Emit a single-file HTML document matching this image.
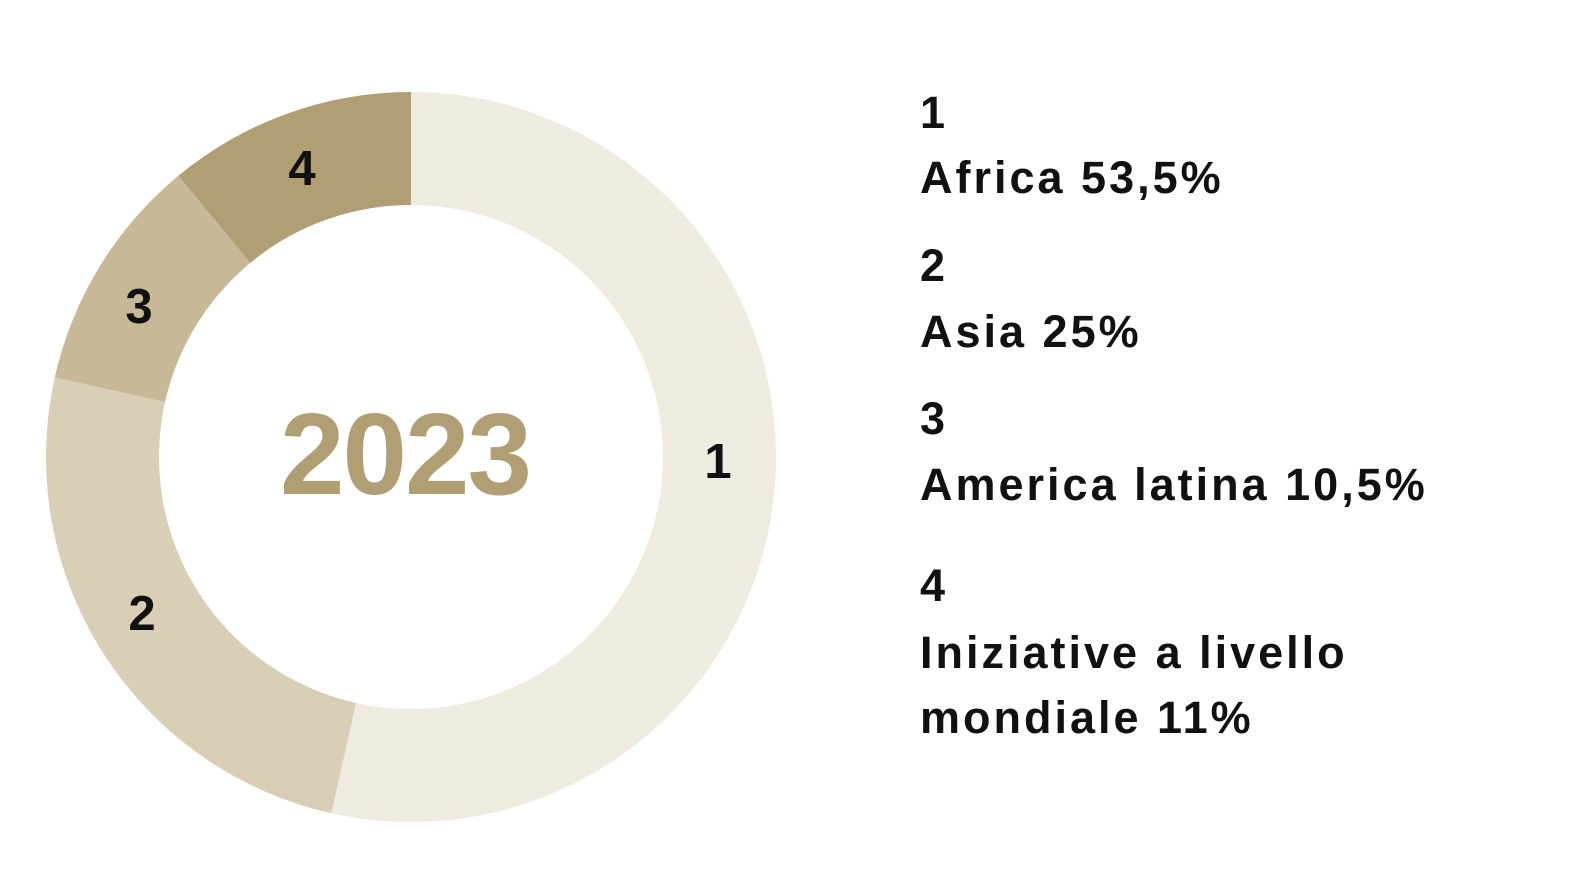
<!DOCTYPE html>
<html><head><meta charset="utf-8"><style>
html,body{margin:0;padding:0;background:#fff;}
svg{display:block;}
text{font-family:"Liberation Sans",sans-serif;font-weight:bold;}
</style></head><body>
<svg width="1574" height="885" viewBox="0 0 1574 885">
<g id="d"></g>
<script>
(function(){
var cx=411,cy=457,R=365,r=252;
var segs=[[0,53.5,"#f0ebe0"],[53.5,78.5,"#d9cfb6"],[78.5,89,"#c7b998"],[89,100,"#b09f74"]];
var g=document.getElementById("d");
function pt(a,rad){var t=a/100*2*Math.PI;return [cx+rad*Math.sin(t),cy-rad*Math.cos(t)];}
segs.forEach(function(s){
var a=pt(s[0],R),b=pt(s[1],R),c=pt(s[1],r),d=pt(s[0],r);
var lg=(s[1]-s[0])>50?1:0;
var p=document.createElementNS("http://www.w3.org/2000/svg","path");
p.setAttribute("d","M"+a+" A"+R+" "+R+" 0 "+lg+" 1 "+b+" L"+c+" A"+r+" "+r+" 0 "+lg+" 0 "+d+" Z");
p.setAttribute("fill",s[2]);g.appendChild(p);});
})();
</script>
<g font-size="49" fill="#111" text-anchor="middle">
<text x="302" y="185">4</text>
<text x="139" y="323">3</text>
<text x="142" y="630">2</text>
<text x="718" y="478">1</text>
</g>
<text x="405" y="494" font-size="116" fill="#b09f74" text-anchor="middle" letter-spacing="-2">2023</text>
<g font-size="45" fill="#111" letter-spacing="3">
<text x="920" y="128">1</text>
<text x="920" y="193">Africa 53,5%</text>
<text x="920" y="281">2</text>
<text x="920" y="347">Asia 25%</text>
<text x="920" y="434">3</text>
<text x="920" y="500">America latina 10,5%</text>
<text x="920" y="601">4</text>
<text x="920" y="668">Iniziative a livello</text>
<text x="920" y="733">mondiale 11%</text>
</g>
</svg>
</body></html>
